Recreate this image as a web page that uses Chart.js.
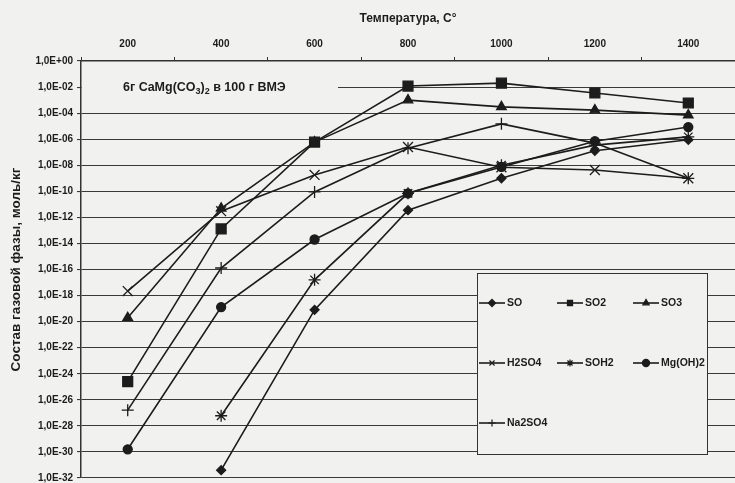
<!DOCTYPE html>
<html>
<head>
<meta charset="utf-8">
<script src="https://cdn.jsdelivr.net/npm/chart.js@4/dist/chart.umd.min.js"></script>
<style>
  body { margin: 0; background: #f1f1f0; }
  canvas { display: block; }
</style>
</head>
<body>
<canvas id="chart" width="735" height="483"></canvas>
<script>
// temperatures, C
const temps = ['200', '400', '600', '800', '1000', '1200', '1400'];

// gas phase composition, mol/kg
const so     = [null, 4e-32, 8e-20, 3.6e-12, 1e-9, 1.3e-7, 9e-7];
const so2    = [2.5e-25, 1.3e-13, 6e-7, 1.2e-2, 2e-2, 3.5e-3, 6e-4];
const so3    = [2e-20, 5e-12, 6e-7, 1e-3, 3e-4, 1.7e-4, 7e-5];
const h2so4  = [2.2e-18, 3e-12, 1.8e-9, 2.5e-7, 7e-9, 4.3e-9, 1e-9];
const soh2   = [null, 6e-28, 1.6e-17, 7e-11, 1e-8, 3.5e-7, 1.5e-6];
const mgoh2  = [1.6e-30, 1.3e-19, 2e-14, 7e-11, 7.4e-9, 7e-7, 8.5e-6];
const na2so4 = [1.6e-27, 1.3e-16, 9e-11, 2e-7, 1.5e-5, 5e-7, 1e-9];

const yTickLabels = ['1,0E+00', '1,0E-02', '1,0E-04', '1,0E-06', '1,0E-08', '1,0E-10', '1,0E-12',
  '1,0E-14', '1,0E-16', '1,0E-18', '1,0E-20', '1,0E-22', '1,0E-24', '1,0E-26', '1,0E-28',
  '1,0E-30', '1,0E-32'];
const yTickValues = yTickLabels.map(s => parseFloat(s.replace(',', '.')));

const INK = '#1c1c1c';
const BG = '#f1f1f0';
const FONT = "'Liberation Sans', Arial, sans-serif";

function series(label, data, style, radius) {
  return {
    label: label,
    data: data,
    borderColor: INK,
    backgroundColor: INK,
    borderWidth: 1.6,
    pointStyle: style,
    pointRadius: radius,
    pointBorderWidth: 1.3,
    pointBorderColor: INK,
    pointBackgroundColor: INK,
    tension: 0,
    fill: false,
    clip: 10
  };
}

// background + annotation + legend box
const paper = {
  id: 'paper',
  beforeDraw(chart) {
    const ctx = chart.ctx;
    ctx.save();
    ctx.fillStyle = BG;
    ctx.fillRect(0, 0, chart.width, chart.height);
    ctx.restore();
  },
  beforeDatasetsDraw(chart) {
    // note text sits on a blank patch over the 1E-02 gridline
    const ctx = chart.ctx;
    const area = chart.chartArea;
    const y = chart.scales.y.getPixelForValue(1e-2);
    ctx.save();
    ctx.fillStyle = BG;
    ctx.fillRect(area.left + 1, y - 10, 256, 20);
    let x = area.left + 42;
    const base = y + 4;
    const parts = [
      ['6г CaMg(CO', 0], ['3', 1], [')', 0], ['2', 1], [' в 100 г ВМЭ', 0]
    ];
    ctx.fillStyle = INK;
    ctx.textBaseline = 'alphabetic';
    parts.forEach(p => {
      ctx.font = p[1] ? 'bold 9px ' + FONT : 'bold 12.5px ' + FONT;
      ctx.fillText(p[0], x, base + (p[1] ? 3 : 0));
      x += ctx.measureText(p[0]).width;
    });
    ctx.restore();
  },
  afterDraw(chart) {
    const ctx = chart.ctx;
    const box = { left: 477, top: 273, width: 230, height: 181 };
    const cols = [479, 557, 633];
    const rows = [303, 363, 423];
    ctx.save();
    ctx.fillStyle = BG;
    ctx.fillRect(box.left, box.top, box.width, box.height);
    ctx.strokeStyle = '#333';
    ctx.lineWidth = 1;
    ctx.strokeRect(box.left + 0.5, box.top + 0.5, box.width, box.height);
    chart.data.datasets.forEach((ds, i) => {
      const x = cols[i % 3];
      const y = rows[Math.floor(i / 3)];
      ctx.strokeStyle = INK;
      ctx.fillStyle = INK;
      ctx.lineWidth = 1.6;
      ctx.beginPath();
      ctx.moveTo(x, y);
      ctx.lineTo(x + 26, y);
      ctx.stroke();
      ctx.lineWidth = 1.2;
      Chart.helpers.drawPoint(ctx, {
        pointStyle: ds.pointStyle,
        radius: Math.min(ds.pointRadius, 4.5) * 0.8,
        rotation: 0,
        borderWidth: 1.2
      }, x + 13, y);
      ctx.font = 'bold 10.5px ' + FONT;
      ctx.textBaseline = 'middle';
      ctx.fillText(ds.label, x + 28, y);
    });
    ctx.restore();
  }
};

new Chart(document.getElementById('chart').getContext('2d'), {
  type: 'line',
  data: {
    labels: temps,
    datasets: [
      series('SO', so, 'rectRot', 4.5),
      series('SO2', so2, 'rect', 7),
      series('SO3', so3, 'triangle', 5.5),
      series('H2SO4', h2so4, 'crossRot', 7),
      series('SOH2', soh2, 'star', 6),
      series('Mg(OH)2', mgoh2, 'circle', 4.5),
      series('Na2SO4', na2so4, 'cross', 6)
    ]
  },
  options: {
    responsive: false,
    animation: false,
    layout: { autoPadding: false, padding: { top: 6, right: 0, bottom: 5, left: 4 } },
    plugins: {
      legend: { display: false },
      tooltip: { enabled: false }
    },
    scales: {
      x: {
        type: 'category',
        position: 'top',
        offset: true,
        afterFit(scale) {
          scale.height = 55;
          scale.paddingLeft = 0;
          scale.paddingRight = 0;
        },
        grid: { display: true, drawOnChartArea: false, offset: true, tickLength: 4, color: '#333' },
        border: { color: '#333', width: 1.5 },
        ticks: { color: INK, padding: 7, font: { family: FONT, size: 10, weight: 'bold' } },
        title: {
          display: true,
          text: 'Температура, С°',
          color: INK,
          font: { family: FONT, size: 12, weight: 'bold' },
          padding: { top: 5, bottom: 0 }
        }
      },
      y: {
        type: 'logarithmic',
        min: 1e-32,
        max: 1,
        afterFit(scale) {
          scale.width = 77;
          scale.paddingTop = 0;
          scale.paddingBottom = 0;
        },
        afterBuildTicks(scale) {
          scale.ticks = yTickValues.map(v => ({ value: v }));
        },
        grid: { color: '#3a3a3a', lineWidth: 1.1, tickLength: 4 },
        border: { color: '#333', width: 1.5 },
        ticks: {
          color: INK,
          padding: 4,
          autoSkip: false,
          font: { family: FONT, size: 10, weight: 'bold' },
          callback(v) {
            const i = yTickValues.findIndex(t => Math.abs(Math.log10(t) - Math.log10(v)) < 1e-6);
            return i >= 0 ? yTickLabels[i] : '';
          }
        },
        title: {
          display: true,
          text: 'Состав газовой фазы, моль/кг',
          color: INK,
          font: { family: FONT, size: 13.5, weight: 'bold' },
          padding: { top: 4, bottom: 0 }
        }
      }
    }
  },
  plugins: [paper]
});
</script>
</body>
</html>
